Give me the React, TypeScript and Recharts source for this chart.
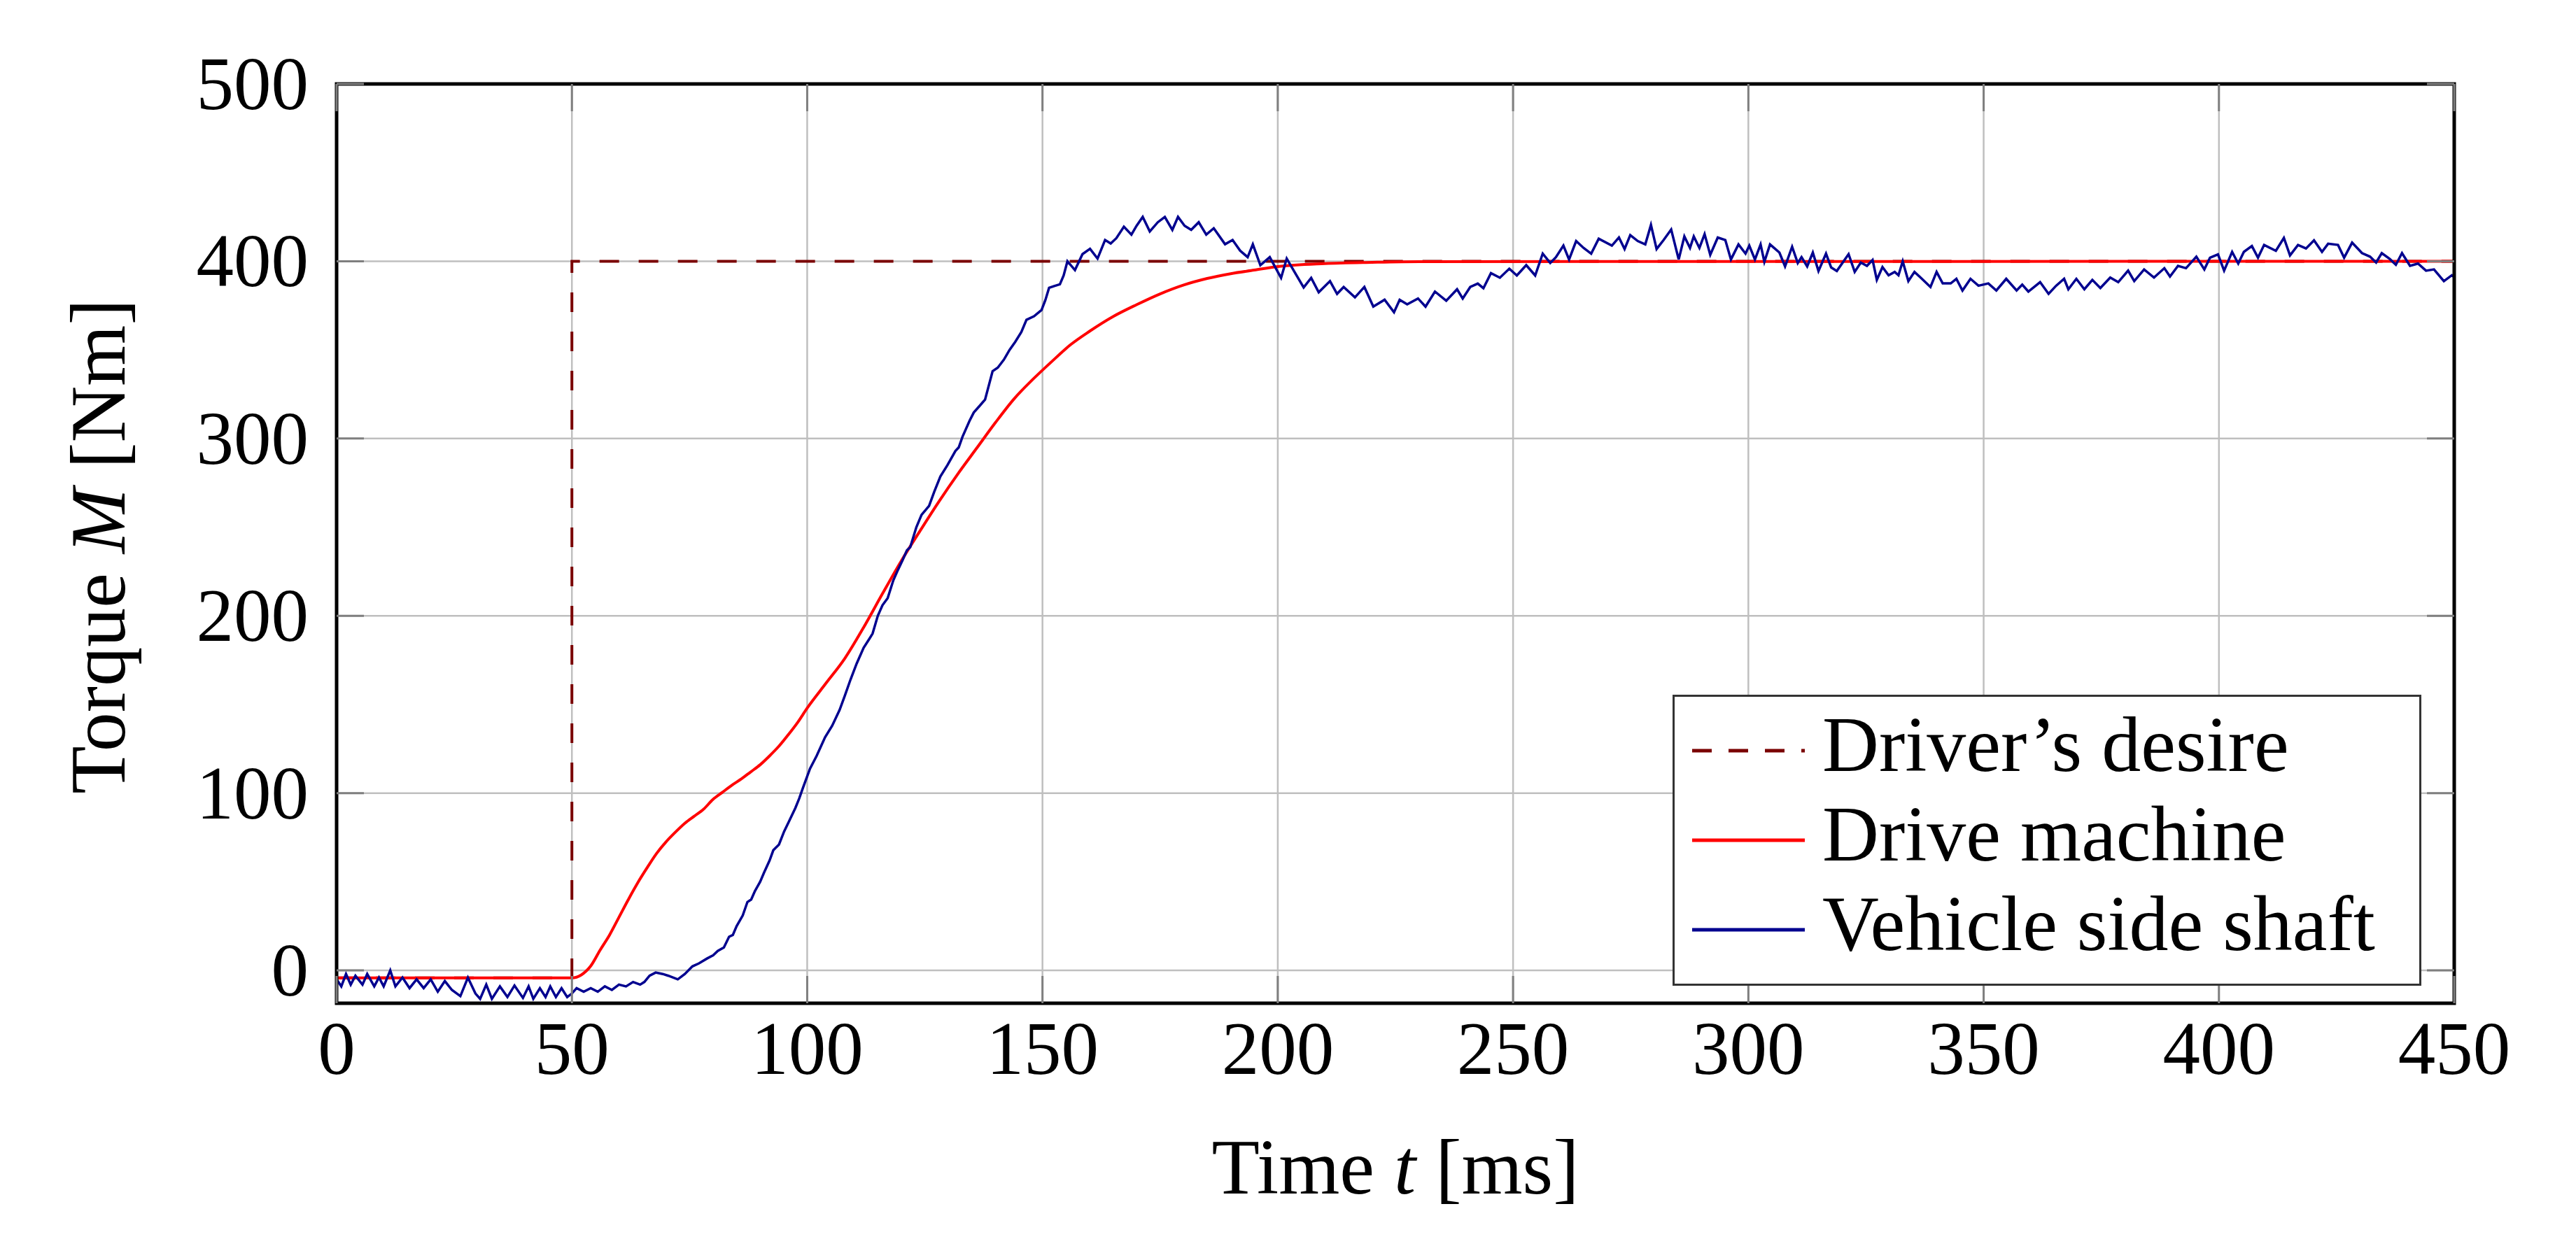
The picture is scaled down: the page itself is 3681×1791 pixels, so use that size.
import React from 'react';
import { LineChart, Line, XAxis, YAxis, CartesianGrid, Legend, Label } from 'recharts';

// ---------- data ----------
const xTicks = [0, 50, 100, 150, 200, 250, 300, 350, 400, 450];
const yTicks = [0, 100, 200, 300, 400, 500];

const seriesNames = ["Driver\u2019s desire", 'Drive machine', 'Vehicle side shaft'];
const seriesColors = ['#7a0000', '#ff0000', '#00008f'];

const desireTime = [0, 50, 50, 450];
const desireTorque = [-4.2, -4.2, 400, 400];

const machineTime = [0, 50, 52, 54, 56, 58, 60, 62, 64, 66, 68, 70, 72, 74, 76, 78, 80, 82, 84, 86, 88, 90, 92, 94, 96, 98, 100, 104, 108, 112, 116, 120, 124, 128, 132, 136, 140, 144, 148, 152, 156, 160, 165, 170, 175, 180, 185, 190, 195, 200, 210, 220, 230, 450];
const machineTorque = [-4.2, -4.2, -2.5, 2.5, 11.5, 20, 30, 40, 49.5, 58, 66, 72.5, 78, 83, 87, 91, 96.5, 100.5, 104.5, 108, 112, 116, 121, 126.5, 133, 140, 148, 162, 176, 193.5, 212.5, 231, 248, 264.5, 280, 294.5, 309, 322.5, 333.5, 343.5, 353, 360.5, 368.8, 375.5, 381.6, 386.6, 390.3, 393, 395, 397, 398.7, 399.4, 399.8, 400];

const shaftTime = [
  0, 1, 2, 3, 4, 5.5, 6.5, 8, 9, 10, 11.4, 12.5, 14, 15.5, 17, 18.5, 20, 21.5, 23, 24.5,
  26.3, 27.9, 29.5, 30.5, 31.8, 33, 34.7, 36.3, 37.8, 39.6, 40.8, 41.8, 43.2, 44.4, 45.4, 46.6, 47.8, 49, 50,
  51, 52.5, 54, 55.5, 57, 58.5, 60, 61.5, 63, 64.5, 65.4, 66.5, 67.8, 69.3, 70.5, 72.5, 74, 75.6, 77, 78.7,
  80, 81, 82.3, 83.4, 84.2, 85, 86.3, 87.3, 88.1, 88.9, 90, 90.8, 92, 92.8, 94, 95.1, 96.3, 97.5, 98.3, 99.1,
  100.6, 102, 103.8, 105.3, 106.9, 108, 109.2, 110.5, 112, 113.2, 113.9, 115, 116, 117.1, 118.3, 119.3, 120.3, 121.2, 121.9,
  123.2, 124.3, 125.9, 127, 128.3, 129.8, 131.5, 132.2, 133, 134.5, 135.4, 136.5, 137.8, 139.4, 140.5, 141.8, 143, 144.2,
  145.5, 146.6, 148.2, 149.8, 150.6, 151.4, 152.5, 153.7, 154.5, 155.3, 156.9, 158.5, 160.1, 161.7, 163.3, 164.5, 165.7,
  167.3, 168.9, 170, 171.3, 172.8, 174.5, 176, 177.6, 178.8, 180.2, 181.6, 183.2, 184.8, 186.4, 188.8, 190.4, 192,
  193.6, 194.7, 196.3, 198.3, 200.7, 201.9, 203.9, 205.5, 207.1, 208.7, 211.1, 212.6, 214, 216.4, 218.4, 220.3,
  222.7, 224.7, 225.9, 227.5, 229.8, 231.4, 233.4, 235.8, 238.1, 239.3, 240.9, 242.5, 243.7, 245.3, 247.2, 249.2,
  250.8, 252.8, 254.7, 256.3, 257.9, 259.1, 260.7, 261.9, 263.4, 265, 266.6, 268.2, 271, 272.5, 273.7, 274.9,
  276.5, 278.1, 279.3, 280.5, 282, 283.6, 285.2, 286.4, 287.6, 288.4, 289.6, 290.7, 291.9, 293.5, 295.1, 296.3,
  297.9, 299.4, 300.2, 301.4, 302.6, 303.4, 304.6, 306.6, 307.8, 309.3, 310.5, 311.3, 312.5, 313.7, 314.9, 316.5,
  317.6, 318.8, 321.3, 322.6, 323.9, 325.2, 326.4, 327.3, 328.5, 329.8, 331.1, 331.9, 332.8, 334, 335.3, 336.6,
  338.7, 340, 341.3, 343, 344.2, 345.5, 347.2, 348.9, 351, 352.7, 354.8, 357, 358.2, 359.5, 362, 363.8,
  365.4, 367.1, 368, 369.7, 371.4, 373.1, 374.8, 376.9, 378.6, 380.7, 382, 384.1, 386.2, 388.4, 389.6, 391.3,
  393, 395.2, 396.9, 398.1, 399.8, 401.1, 402.8, 404.1, 405.3, 407, 408.3, 409.6, 412.1, 413.8, 415.1, 416.8,
  418.5, 420.2, 421.9, 423.2, 425.3, 426.6, 428.3, 430.4, 432.1, 433.4, 434.6, 436.3, 437.6, 438.9, 440.6, 442.3,
  444, 445.7, 447.8, 449.5, 450,
];
const shaftTorque = [
  -5, -9, -2, -8, -3, -8, -2, -9, -4, -9, 0, -9, -4, -10, -5, -10, -5, -12, -6, -11,
  -14.5, -4, -13, -16, -8, -16, -9, -15, -8.5, -15.5, -9, -16, -10, -15, -9, -15, -10, -15, -13,
  -10, -12, -10, -12, -9, -11, -8, -9, -6.5, -8, -6.5, -3, -1.2, -2, -3, -5, -2, 2.3, 4, 6.7,
  8.5, 11, 13, 19, 20, 25, 31, 38.6, 40, 44.8, 50, 55, 62, 67.8, 71, 78.4, 85, 91.7, 97, 103,
  113.8, 121, 131.5, 138, 147, 155, 164, 173, 182, 187, 190, 200, 206, 210, 220, 226, 231.6, 237, 238.8,
  250, 257, 262, 270, 278.6, 285, 293, 295, 301, 310, 314.7, 318, 322, 338, 340, 344.5, 350, 354.5,
  360, 367, 369, 372.5, 378, 385, 386, 387, 392, 400, 395, 404, 407, 401.5, 412, 410, 413,
  419.5, 415, 420, 425, 416.8, 422, 425, 417.7, 425, 420, 417.7, 422, 415, 418.6, 409.6, 412, 406,
  402.3, 409.6, 397.8, 402.3, 390.6, 401.5, 392.4, 385.2, 390.6, 382.5, 388.8, 381.6, 385.5, 379.6, 385.5, 374.4,
  378.3, 371.2, 378.3, 375.7, 379, 374.4, 382.9, 377.7, 384.2, 379, 385.5, 387.4, 384.8, 393.3, 390.7, 395.8,
  392, 397.8, 392, 404.3, 399, 402.3, 408.8, 401, 411.4, 407.5, 404.3, 412.7, 408.8, 413.4, 406.9, 414.7,
  411.4, 409.5, 420.5, 406.9, 412, 417.9, 401, 414, 407.5, 414, 407.5, 415.3, 403.6, 413.4, 412, 401,
  409.5, 404.3, 408.8, 401, 409.5, 399.7, 409.5, 404.9, 397.1, 408.2, 399, 402.3, 397.1, 404.9, 394.5, 404.3,
  396.5, 394.5, 404, 394, 399.3, 397.4, 400.7, 389.5, 396.7, 392.1, 394, 392.1, 400, 388.8, 394, 390.8,
  385.5, 394, 387.5, 387.5, 390.1, 383.5, 390.1, 386.2, 387.5, 383.5, 390.1, 383.5, 386.8, 382.9, 388.2, 381.6,
  386.2, 390.1, 384.2, 390.1, 384.2, 389.5, 384.9, 390.8, 388.2, 394.7, 388.8, 395.4, 390.8, 396.1, 391.4, 397.4,
  396.1, 402.6, 395.4, 402, 403.9, 394.7, 405.3, 398.7, 405.3, 408.6, 402, 409.2, 405.9, 413.2, 403.3, 409.2,
  407.2, 411.8, 405.3, 409.9, 409.2, 402, 410.5, 404.6, 402.6, 399.3, 404.6, 401.3, 398, 404.6, 397.4, 398.7,
  394.7, 395.4, 388.8, 392.1, 391,
];

const desireData = desireTime.map((t, i) => ({ time: t, torque: desireTorque[i] }));
const machineData = machineTime.map((t, i) => ({ time: t, torque: machineTorque[i] }));
const shaftData = shaftTime.map((t, i) => ({ time: t, torque: shaftTorque[i] }));

// ---------- styling ----------
const FONT = "'Liberation Serif', 'Times New Roman', serif";
const TICK_FONT = 107;
const TEXT_FONT = 112;
const TICK_LEN = 39;
const TICK_COLOR = '#7f7f7f';
const GRID_COLOR = '#bfbfbf';
const FRAME = { stroke: '#000', strokeWidth: 4 };
const MARGIN = { top: 119, right: 173, bottom: 0, left: 0 };
const TOP_AXIS_H = 1;

const BottomTick = (props: any) => {
  const { x, y, payload } = props;
  return (
    <g>
      <line x1={x} y1={y} x2={x} y2={y - TICK_LEN} stroke={TICK_COLOR} strokeWidth={3} />
      <text x={x} y={y + 101} textAnchor="middle" fontFamily={FONT} fontSize={TICK_FONT} fill="#000">
        {payload.value}
      </text>
    </g>
  );
};

const LeftTick = (props: any) => {
  const { x, y, payload } = props;
  return (
    <g>
      <line x1={x} y1={y} x2={x + TICK_LEN} y2={y} stroke={TICK_COLOR} strokeWidth={3} />
      <text x={x - 40} y={y + 36} textAnchor="end" fontFamily={FONT} fontSize={TICK_FONT} fill="#000">
        {payload.value}
      </text>
    </g>
  );
};

const TopTick = (props: any) => {
  const { x, y } = props;
  return <line x1={x} y1={y} x2={x} y2={y + TICK_LEN} stroke={TICK_COLOR} strokeWidth={3} />;
};

const RightTick = (props: any) => {
  const { x, y } = props;
  return <line x1={x} y1={y} x2={x - TICK_LEN} y2={y} stroke={TICK_COLOR} strokeWidth={3} />;
};

// X title; also draws the black axis frame around the plot area from the axis viewBox
const XTitle = (props: any) => {
  const vb = props.viewBox || {};
  const cx = vb.x + vb.width / 2;
  const by = vb.y + 272;
  const top = MARGIN.top + TOP_AXIS_H;
  return (
    <g>
      <rect
        x={vb.x}
        y={top}
        width={vb.width}
        height={vb.y - top}
        fill="none"
        stroke="#000"
        strokeWidth={5}
      />
      <text x={cx} y={by} textAnchor="middle" fontFamily={FONT} fontSize={TEXT_FONT} fill="#000">
        Time <tspan fontStyle="italic">t</tspan> [ms]
      </text>
    </g>
  );
};

const YTitle = (props: any) => {
  const vb = props.viewBox || {};
  const bx = 178;
  const cy = vb.y + vb.height / 2 + 4;
  return (
    <text
      x={bx}
      y={cy}
      textAnchor="middle"
      transform={`rotate(-90, ${bx}, ${cy})`}
      fontFamily={FONT}
      fontSize={TEXT_FONT}
      fill="#000"
    >
      Torque <tspan fontStyle="italic">M</tspan> [Nm]
    </text>
  );
};

const legendDashes = ['28 24', undefined, undefined];

const LegendBox = () => {
  const w = 1070;
  const h = 416;
  const rows = [80, 208, 336];
  return (
    <svg width={w} height={h} style={{ display: 'block' }}>
      <rect x={1.5} y={1.5} width={w - 3} height={h - 3} fill="#fff" stroke="#333" strokeWidth={3} />
      {seriesNames.map((name, i) => (
        <g key={name}>
          <line
            x1={28}
            y1={rows[i]}
            x2={189}
            y2={rows[i]}
            stroke={seriesColors[i]}
            strokeWidth={5}
            strokeDasharray={legendDashes[i]}
          />
          <text x={214} y={rows[i] + 29} fontFamily={FONT} fontSize={TEXT_FONT} fill="#000">
            {name}
          </text>
        </g>
      ))}
    </svg>
  );
};

export default function App() {
  return (
    <div style={{ position: 'absolute', left: 0, top: 0, background: '#fff' }}>
      <LineChart width={3681} height={1791} margin={MARGIN}>
        <CartesianGrid stroke={GRID_COLOR} strokeWidth={2.5} />
        <XAxis
          xAxisId={0}
          type="number"
          dataKey="time"
          domain={[0, 450]}
          ticks={xTicks}
          allowDataOverflow
          height={357}
          axisLine={FRAME}
          tickLine={false}
          tickSize={0}
          tickMargin={0}
          tick={<BottomTick />}
          interval={0}
        >
          <Label content={<XTitle />} />
        </XAxis>
        <XAxis
          xAxisId="top"
          orientation="top"
          type="number"
          dataKey="time"
          domain={[0, 450]}
          ticks={xTicks}
          allowDataOverflow
          height={TOP_AXIS_H}
          axisLine={FRAME}
          tickLine={false}
          tickSize={0}
          tickMargin={0}
          tick={<TopTick />}
          interval={0}
        />
        <YAxis
          yAxisId={0}
          type="number"
          domain={[-18.5, 500]}
          ticks={yTicks}
          allowDataOverflow
          width={481}
          axisLine={FRAME}
          tickLine={false}
          tickSize={0}
          tickMargin={0}
          tick={<LeftTick />}
          interval={0}
        >
          <Label content={<YTitle />} />
        </YAxis>
        <YAxis
          yAxisId="right"
          orientation="right"
          type="number"
          domain={[-18.5, 500]}
          ticks={yTicks}
          allowDataOverflow
          width={1}
          axisLine={FRAME}
          tickLine={false}
          tickSize={0}
          tickMargin={0}
          tick={<RightTick />}
          interval={0}
        />
        <Line
          data={desireData}
          dataKey="torque"
          name={seriesNames[0]}
          type="linear"
          stroke={seriesColors[0]}
          strokeWidth={4}
          strokeDasharray="28 28"
          dot={false}
          activeDot={false}
          isAnimationActive={false}
        />
        <Line
          data={machineData}
          dataKey="torque"
          name={seriesNames[1]}
          type="monotone"
          stroke={seriesColors[1]}
          strokeWidth={4}
          dot={false}
          activeDot={false}
          isAnimationActive={false}
        />
        <Line
          data={shaftData}
          dataKey="torque"
          name={seriesNames[2]}
          type="linear"
          stroke={seriesColors[2]}
          strokeWidth={3.5}
          dot={false}
          activeDot={false}
          isAnimationActive={false}
        />
        <Legend
          layout="horizontal"
          verticalAlign="middle"
          align="center"
          content={<LegendBox />}
          wrapperStyle={{ left: 2390, top: 993, right: 'auto', bottom: 'auto', width: 1070, height: 416 }}
        />
      </LineChart>
    </div>
  );
}
